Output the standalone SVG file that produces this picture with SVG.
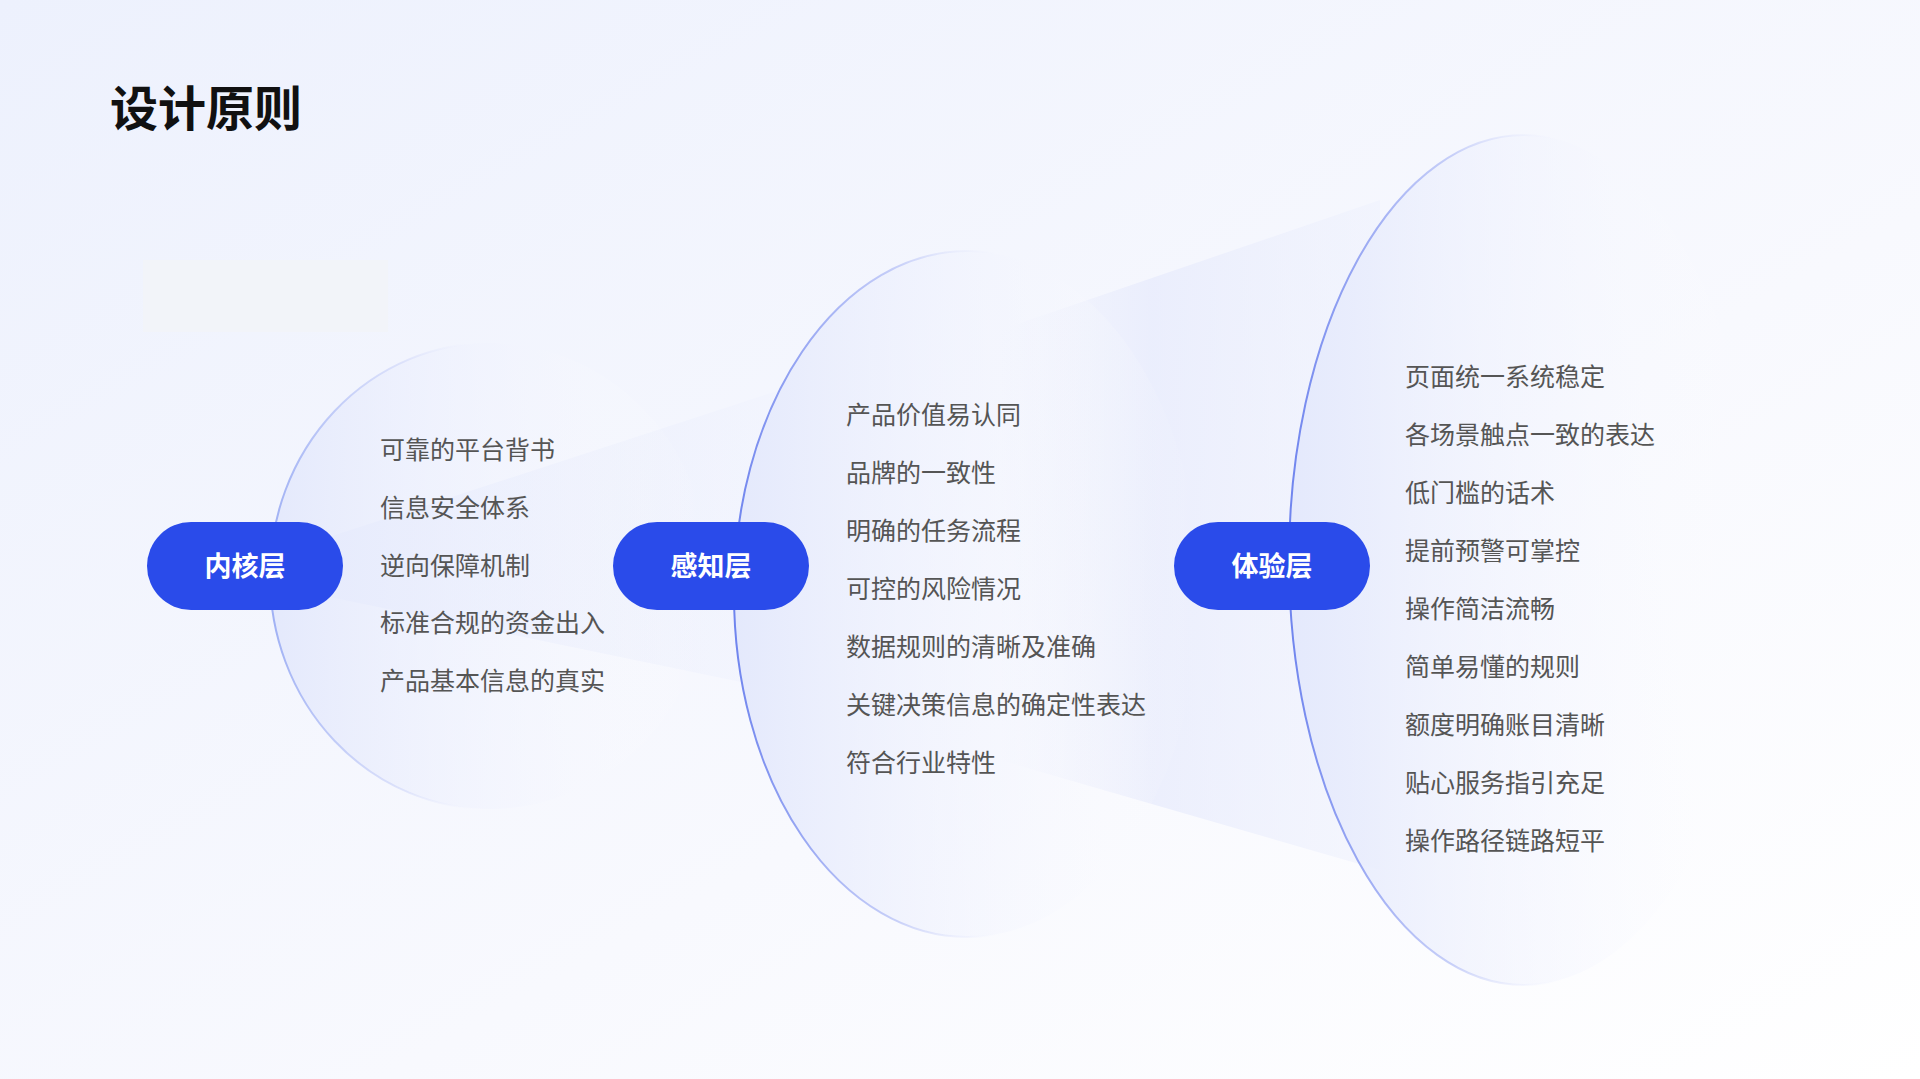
<svg xmlns="http://www.w3.org/2000/svg" width="1920" height="1079" viewBox="0 0 1920 1079">
<defs>
<linearGradient id="bg" x1="0" y1="0" x2="1" y2="1"><stop offset="0" stop-color="#edf1fd"/><stop offset="0.6" stop-color="#f8f9fe"/><stop offset="1" stop-color="#ffffff"/></linearGradient>
<linearGradient id="ring" x1="0" y1="0" x2="1" y2="0"><stop offset="0" stop-color="#6f84ee"/><stop offset="0.35" stop-color="#aab6f5" stop-opacity="0.6"/><stop offset="0.6" stop-color="#ffffff" stop-opacity="0"/></linearGradient>
<linearGradient id="ring1" x1="0" y1="0" x2="1" y2="0"><stop offset="0" stop-color="#9fb0f4"/><stop offset="0.3" stop-color="#c8d0f8" stop-opacity="0.5"/><stop offset="0.5" stop-color="#ffffff" stop-opacity="0"/></linearGradient>
<linearGradient id="fill" x1="0" y1="0" x2="1" y2="0"><stop offset="0" stop-color="#e4e9fc"/><stop offset="0.6" stop-color="#f3f5fe" stop-opacity="0.4"/><stop offset="1" stop-color="#ffffff" stop-opacity="0"/></linearGradient>
<linearGradient id="beam" x1="0" y1="0" x2="1" y2="0"><stop offset="0" stop-color="#dfe5fb" stop-opacity="0.9"/><stop offset="1" stop-color="#eef1fd" stop-opacity="0.3"/></linearGradient>
<linearGradient id="beam2" x1="0" y1="0" x2="1" y2="0"><stop offset="0" stop-color="#e6eafc" stop-opacity="0"/><stop offset="0.4" stop-color="#e6eafc" stop-opacity="0.7"/><stop offset="1" stop-color="#eef1fd" stop-opacity="0.5"/></linearGradient>
<style>
.pill{fill:#2a4bea}
.pt{font-family:"Noto Sans CJK SC","Noto Sans",sans-serif;font-size:27px;font-weight:700;fill:#fff;text-anchor:middle}
.it{font-family:"Noto Sans CJK SC","Noto Sans",sans-serif;font-size:25px;fill:#555}
.ring{fill:url(#fill);stroke:url(#ring);stroke-width:2}
</style>
</defs>
<rect width="1920" height="1079" fill="url(#bg)"/>
<rect x="143" y="260" width="245" height="72" fill="#f2f3f7" opacity="0.7"/>
<text x="110" y="126" font-family="'Noto Sans CJK SC',sans-serif" font-size="48" font-weight="700" fill="#111">设计原则</text>
<g id="beams">
<polygon points="320,540 780,390 780,690 320,595" fill="url(#beam)"/>
<polygon points="1000,330 1380,200 1380,870 1000,760" fill="url(#beam2)"/>
</g>
<g id="rings">
<ellipse cx="490" cy="576" rx="220" ry="233" fill="url(#fill)" stroke="url(#ring1)" stroke-width="2"/>
<ellipse class="ring" cx="967" cy="594" rx="233" ry="343"/>
<ellipse class="ring" cx="1524" cy="560" rx="235" ry="425"/>
</g>
<g id="n1"><rect class="pill" x="147" y="522" width="196" height="88" rx="44"/><text class="pt" x="245" y="576">内核层</text></g>
<g id="n2"><rect class="pill" x="613" y="522" width="196" height="88" rx="44"/><text class="pt" x="711" y="576">感知层</text></g>
<g id="n3"><rect class="pill" x="1174" y="522" width="196" height="88" rx="44"/><text class="pt" x="1272" y="576">体验层</text></g>
<g id="c1" class="it">
<text x="380" y="459">可靠的平台背书</text>
<text x="380" y="517">信息安全体系</text>
<text x="380" y="575">逆向保障机制</text>
<text x="380" y="632">标准合规的资金出入</text>
<text x="380" y="690">产品基本信息的真实</text>
</g>
<g id="c2" class="it">
<text x="846" y="424">产品价值易认同</text>
<text x="846" y="482">品牌的一致性</text>
<text x="846" y="540">明确的任务流程</text>
<text x="846" y="598">可控的风险情况</text>
<text x="846" y="656">数据规则的清晰及准确</text>
<text x="846" y="714">关键决策信息的确定性表达</text>
<text x="846" y="772">符合行业特性</text>
</g>
<g id="c3" class="it">
<text x="1405" y="386">页面统一系统稳定</text>
<text x="1405" y="444">各场景触点一致的表达</text>
<text x="1405" y="502">低门槛的话术</text>
<text x="1405" y="560">提前预警可掌控</text>
<text x="1405" y="618">操作简洁流畅</text>
<text x="1405" y="676">简单易懂的规则</text>
<text x="1405" y="734">额度明确账目清晰</text>
<text x="1405" y="792">贴心服务指引充足</text>
<text x="1405" y="850">操作路径链路短平</text>
</g>
</svg>
